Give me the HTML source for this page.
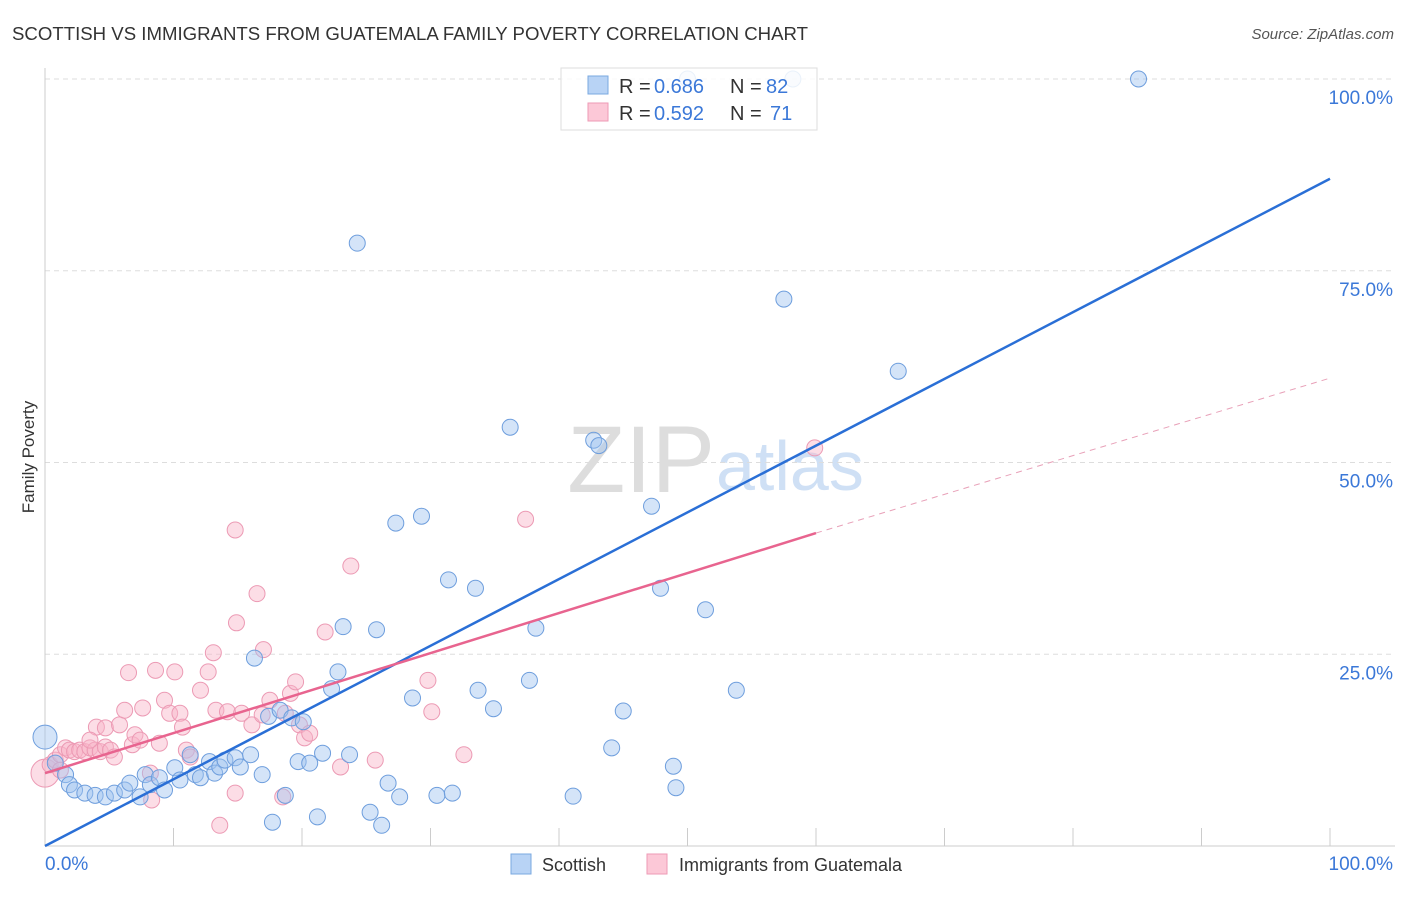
<!DOCTYPE html>
<html><head><meta charset="utf-8"><style>
body{margin:0;background:#fff;font-family:"Liberation Sans",sans-serif}
svg text{font-family:"Liberation Sans",sans-serif}
</style></head><body>
<svg id="c" width="1406" height="892" viewBox="0 0 1406 892">
<text x="12" y="40" font-size="18" fill="#333" textLength="796" lengthAdjust="spacingAndGlyphs">SCOTTISH VS IMMIGRANTS FROM GUATEMALA FAMILY POVERTY CORRELATION CHART</text>
<text x="1394" y="39" font-size="15" fill="#555" text-anchor="end" font-style="italic">Source: ZipAtlas.com</text>
<text x="34" y="457" font-size="17" fill="#333" text-anchor="middle" transform="rotate(-90 34 457)">Family Poverty</text>
<text x="715" y="492" font-size="95" fill="#ddd" text-anchor="end" font-family="Liberation Serif">ZIP</text>
<text x="716" y="490" font-size="70" fill="#cfe0f5">atlas</text>
<g id="grid"></g><g id="pts"></g><g id="lines"></g>
<g>
<rect x="561" y="68" width="256" height="62" fill="rgba(255,255,255,0.85)" stroke="#ddd"/>
<rect x="588" y="76" width="20" height="18" fill="#b8d3f5" stroke="#7aa8e0"/>
<rect x="588" y="103" width="20" height="18" fill="#fcc8d7" stroke="#ee9ab5"/>
<text y="93" font-size="20" fill="#333"><tspan x="619">R =</tspan><tspan x="654" fill="#3b78d8">0.686</tspan><tspan x="730">N =</tspan><tspan x="766" fill="#3b78d8">82</tspan></text>
<text y="120" font-size="20" fill="#333"><tspan x="619">R =</tspan><tspan x="654" fill="#3b78d8">0.592</tspan><tspan x="730">N =</tspan><tspan x="770" fill="#3b78d8">71</tspan></text>
</g>
<g>
<rect x="511" y="854" width="20" height="20" fill="#b8d3f5" stroke="#7aa8e0"/>
<text x="542" y="871" font-size="18" fill="#333">Scottish</text>
<rect x="647" y="854" width="20" height="20" fill="#fcc8d7" stroke="#ee9ab5"/>
<text x="679" y="871" font-size="18" fill="#333">Immigrants from Guatemala</text>
</g>
</svg>
<script>
const blueX=[0,0.8,1.6,1.9,2.3,3.1,3.9,4.7,5.4,6.2,6.6,7.4,7.8,8.2,8.9,9.3,10.1,10.5,11.3,11.7,12.1,12.8,13.2,13.6,14.0,14.8,15.2,16.0,16.3,16.9,17.4,17.7,18.3,18.7,19.2,19.7,20.1,20.6,21.2,21.6,22.3,22.8,23.2,23.7,24.3,25.3,25.8,26.2,26.7,27.3,27.6,28.6,29.3,30.5,31.4,31.7,33.5,33.7,34.9,36.2,37.7,38.2,41.1,42.7,43.1,44.1,45.0,47.2,47.9,48.9,49.1,51.4,53.8,57.5,66.4,85.1,50.0,58.2];
const blueY=[14.2,10.8,9.3,8.0,7.3,6.9,6.6,6.4,6.9,7.3,8.2,6.4,9.3,8.0,8.9,7.3,10.2,8.6,11.9,9.3,8.9,11.0,9.5,10.3,11.2,11.5,10.3,11.9,24.5,9.3,16.9,3.1,17.7,6.6,16.7,11.0,16.2,10.8,3.8,12.1,20.5,22.7,28.6,11.9,78.6,4.4,28.2,2.7,8.2,42.1,6.4,19.3,43.0,6.6,34.7,6.9,33.6,20.3,17.9,54.6,21.6,28.4,6.5,52.9,52.2,12.8,17.6,44.3,33.6,10.4,7.6,30.8,20.3,71.3,61.9,100,100,100];
const pinkX=[0,0.4,0.8,1.2,1.6,1.9,2.3,2.7,3.1,3.5,3.9,4.3,4.7,5.1,5.4,4.0,4.7,5.8,6.2,6.5,6.8,7.0,7.4,7.6,8.2,8.3,8.6,8.9,9.3,9.7,10.1,10.5,10.7,11.0,11.3,12.1,12.7,13.1,13.3,13.6,14.2,14.8,14.8,14.9,15.3,16.1,16.5,16.9,17.0,17.5,18.5,18.7,19.1,19.5,19.8,20.2,20.6,21.8,23.0,23.8,25.7,29.8,30.1,32.6,37.4,59.9,1.2,3.5];
const pinkY=[9.5,10.6,11.2,11.9,12.8,12.5,12.3,12.5,12.3,12.8,12.5,12.3,12.9,12.5,11.6,15.5,15.4,15.8,17.7,22.6,13.2,14.5,13.8,18.0,9.5,6.0,22.9,13.4,19.0,17.3,22.7,17.3,15.5,12.5,11.6,20.3,22.7,25.2,17.7,2.7,17.5,41.2,6.9,29.1,17.3,15.8,32.9,17.1,25.6,19.0,6.4,17.3,19.9,21.4,15.8,14.1,14.7,27.9,10.3,36.5,11.2,21.6,17.5,11.9,42.6,51.9,9.9,13.8];
const yTicks=[25,50,75,100];
const yTickLabels=["25.0%","50.0%","75.0%","100.0%"];
const blueFit=[0,87];
const pinkFit=[9.5,40.8,61];
const NS="http://www.w3.org/2000/svg";
const X=v=>45+v*12.85, Y=v=>846-v*7.67;
function mk(t,a,p){const e=document.createElementNS(NS,t);for(const k in a)e.setAttribute(k,a[k]);p.appendChild(e);return e;}
const g=document.getElementById('grid');
yTicks.forEach((t,i)=>{
 const l=mk('line',{x1:45,x2:1395,y1:Y(t),y2:Y(t),stroke:'#ddd','stroke-dasharray':'5,4'},g);
 
 
 const tx=mk('text',{x:1393,y:Y(t)+25,'font-size':19,fill:'#3b78d8','text-anchor':'end'},g);
 tx.textContent=yTickLabels[i];
 
 
});
mk('line',{x1:45,x2:45,y1:68,y2:846,stroke:'#ccc'},g);
const ax=mk('line',{x1:45,x2:1395,y1:846,y2:846,stroke:'#ccc'},g);


for(let i=0;i<=10;i++){mk('line',{x1:X(i*10),x2:X(i*10),y1:828,y2:846,stroke:'#ccc'},g);}
const x0=mk('text',{x:45,y:870,'font-size':19,fill:'#3b78d8'},g);x0.textContent='0.0%';


const x1=mk('text',{x:1393,y:870,'font-size':19,fill:'#3b78d8','text-anchor':'end'},g);x1.textContent='100.0%';


const p=document.getElementById('pts');
pinkX.forEach((v,i)=>{const c=mk('circle',{cx:X(v),cy:Y(pinkY[i]),r:i==0?14:8,fill:'rgba(248,180,200,0.45)',stroke:'#ec9ab4','stroke-width':1},p);
 
 });
blueX.forEach((v,i)=>{const c=mk('circle',{cx:X(v),cy:Y(blueY[i]),r:i==0?12:8,fill:'rgba(160,195,240,0.45)',stroke:'#6e9edd','stroke-width':1},p);
 
 });
const L=document.getElementById('lines');
const bl=mk('line',{x1:X(0),y1:Y(blueFit[0]),x2:X(100),y2:Y(blueFit[1]),stroke:'#2a6fd6','stroke-width':2.5},L);


const pl=mk('line',{x1:X(0),y1:Y(pinkFit[0]),x2:X(60),y2:Y(pinkFit[1]),stroke:'#e8648f','stroke-width':2.5},L);


const pd=mk('line',{x1:X(60),y1:Y(pinkFit[1]),x2:X(100),y2:Y(pinkFit[2]),stroke:'#e8a0b8','stroke-width':1,'stroke-dasharray':'6,5'},L);


</script>
</body></html>
